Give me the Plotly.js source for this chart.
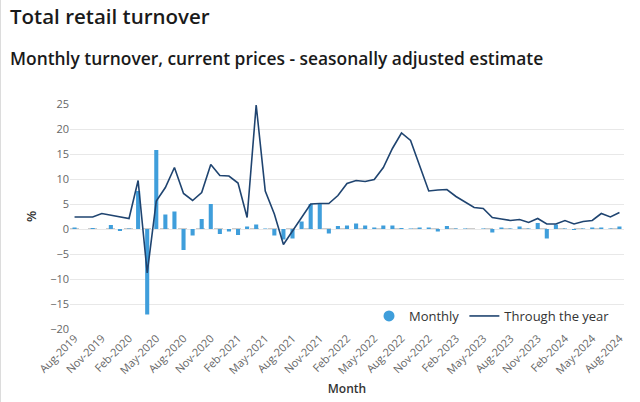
<!DOCTYPE html>
<html>
<head>
<meta charset="utf-8">
<script src="https://cdn.plot.ly/plotly-3.0.1.min.js"></script>
<style>
  html, body { margin: 0; padding: 0; background: #fff; }
  #chart { width: 640px; height: 402px; box-sizing: border-box; border-left: 1px solid #dcdcdc; }
</style>
</head>
<body>
<div id="chart"></div>
<script>
const months = [
  "Aug-2019","Sep-2019","Oct-2019","Nov-2019","Dec-2019","Jan-2020","Feb-2020","Mar-2020","Apr-2020","May-2020",
  "Jun-2020","Jul-2020","Aug-2020","Sep-2020","Oct-2020","Nov-2020","Dec-2020","Jan-2021","Feb-2021","Mar-2021",
  "Apr-2021","May-2021","Jun-2021","Jul-2021","Aug-2021","Sep-2021","Oct-2021","Nov-2021","Dec-2021","Jan-2022",
  "Feb-2022","Mar-2022","Apr-2022","May-2022","Jun-2022","Jul-2022","Aug-2022","Sep-2022","Oct-2022","Nov-2022",
  "Dec-2022","Jan-2023","Feb-2023","Mar-2023","Apr-2023","May-2023","Jun-2023","Jul-2023","Aug-2023","Sep-2023",
  "Oct-2023","Nov-2023","Dec-2023","Jan-2024","Feb-2024","Mar-2024","Apr-2024","May-2024","Jun-2024","Jul-2024",
  "Aug-2024"
];

const monthly = [
  0.3, 0.0, 0.2, 0.0, 0.8, -0.4, 0.1, 7.6, -17.1, 15.8,
  2.9, 3.5, -4.2, -1.3, 2.0, 5.0, -1.0, -0.5, -1.2, 0.5,
  0.9, 0.1, -1.3, -2.1, -1.9, 1.5, 5.0, 5.1, -0.9, 0.6,
  0.7, 1.1, 0.7, 0.3, 0.7, 0.7, 0.2, 0.1, 0.3, 0.3,
  -0.5, 0.6, 0.1, 0.1, 0.0, 0.1, -0.7, 0.3, 0.1, 0.5,
  0.1, 1.2, -1.9, 0.9, 0.1, -0.2, 0.1, 0.3, 0.3, 0.1,
  0.5
];

const throughTheYear = [
  2.4, 2.4, 2.4, 3.1, 2.8, 2.4, 2.1, 9.7, -8.8, 5.6,
  8.3, 12.3, 7.1, 5.7, 7.3, 12.9, 10.7, 10.6, 9.2, 2.3,
  24.8, 7.6, 3.0, -3.1, -0.4, 2.4, 5.0, 5.1, 5.1, 6.7,
  9.1, 9.7, 9.5, 9.9, 12.3, 16.1, 19.2, 17.7, 12.6, 7.6,
  7.8, 7.9, 6.5, 5.4, 4.3, 4.1, 2.3, 2.0, 1.7, 1.9,
  1.3, 2.1, 1.0, 1.0, 1.7, 1.0, 1.5, 1.7, 3.1, 2.4,
  3.3
];

const xTickLabels = [
  "Aug-2019","Nov-2019","Feb-2020","May-2020","Aug-2020","Nov-2020","Feb-2021","May-2021","Aug-2021",
  "Nov-2021","Feb-2022","May-2022","Aug-2022","Nov-2022","Feb-2023","May-2023","Aug-2023","Nov-2023",
  "Feb-2024","May-2024","Aug-2024"
];
const yTickValues = [-20, -15, -10, -5, 0, 5, 10, 15, 20, 25];

const seriesNames = ["Monthly", "Through the year"];

const barColor = "#3f9edb";
const lineColor = "#1f4470";
const fontFamily = "'Open Sans', 'Noto Sans', sans-serif";

const traces = [
  {
    type: "bar",
    x: months,
    y: monthly,
    name: seriesNames[0],
    marker: { color: barColor },
    showlegend: false,
    hoverinfo: "x+y"
  },
  {
    type: "scatter",
    mode: "markers",
    x: [null],
    y: [null],
    name: seriesNames[0],
    marker: { color: barColor, size: 11, symbol: "circle" },
    showlegend: true
  },
  {
    type: "scatter",
    mode: "lines",
    x: months,
    y: throughTheYear,
    name: seriesNames[1],
    line: { color: lineColor, width: 1.6 }
  }
];

const layout = {
  width: 640,
  height: 402,
  margin: { l: 69, r: 17, t: 104, b: 73 },
  paper_bgcolor: "rgba(0,0,0,0)",
  plot_bgcolor: "#fff",
  font: { family: fontFamily, color: "#666", size: 11 },
  bargap: 0.55,
  title: {
    text: "Total retail turnover",
    x: 9 / 640, xanchor: "left", xref: "container",
    y: 1 - 17 / 402, yanchor: "middle", yref: "container",
    font: { family: fontFamily, size: 20.5, color: "#1a1a1a", weight: 600 }
  },
  annotations: [
    {
      text: "Monthly turnover, current prices - seasonally adjusted estimate",
      xref: "paper", yref: "paper",
      x: (7 - 69) / 554, xanchor: "left",
      y: (329 - 58) / 225, yanchor: "middle",
      showarrow: false,
      font: { family: fontFamily, size: 17.4, color: "#1a1a1a", weight: 600 }
    }
  ],
  shapes: [
    {
      type: "line", xref: "paper", yref: "y",
      x0: 0, x1: 1, y0: 0, y1: 0,
      line: { color: "#9a9a9a", width: 1.2, dash: "dash" },
      layer: "below"
    }
  ],
  xaxis: {
    type: "category",
    range: [-0.5, months.length - 0.5],
    tickmode: "array",
    tickvals: xTickLabels,
    ticktext: xTickLabels,
    tickangle: -45,
    showgrid: false,
    zeroline: false,
    showline: false,
    ticks: "",
    tickfont: { size: 11, color: "#666" },
    title: { text: "Month", font: { size: 12, color: "#333", weight: 600 }, standoff: 8 }
  },
  yaxis: {
    range: [-20, 25],
    tickmode: "array",
    tickvals: yTickValues,
    showgrid: true,
    gridcolor: "#e8e8e8",
    gridwidth: 1,
    zeroline: false,
    showline: false,
    ticks: "",
    tickfont: { size: 11, color: "#666" },
    title: { text: "%", font: { size: 13, color: "#333", weight: 600 }, standoff: 10 }
  },
  legend: {
    orientation: "h",
    x: (614 - 69) / 554, xanchor: "right",
    y: (329 - 316) / 225, yanchor: "middle",
    bgcolor: "rgba(255,255,255,0)",
    font: { size: 13, color: "#333", family: fontFamily },
    itemwidth: 30,
    traceorder: "normal"
  }
};

Plotly.newPlot("chart", traces, layout, { displayModeBar: false, staticPlot: true });
</script>
</body>
</html>
